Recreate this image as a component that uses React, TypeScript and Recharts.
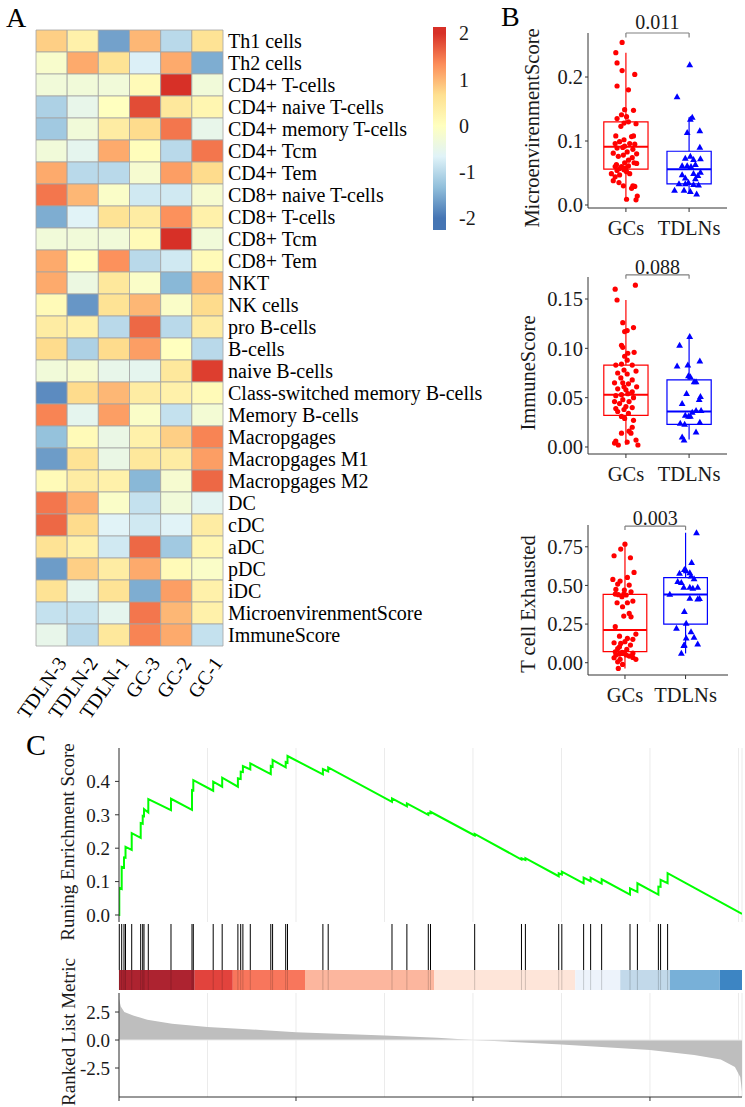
import React from 'react'
import {
  ScatterChart,
  Scatter,
  ComposedChart,
  LineChart,
  Line,
  AreaChart,
  Area,
  XAxis,
  YAxis,
  CartesianGrid,
  ReferenceArea,
  ReferenceLine,
  ReferenceDot,
} from 'recharts'

const FONT = 'Liberation Serif'
const INK = '#1a1a1a'
const RED = '#FF0000'
const BLUE = '#0000FF'

// ---------- panel A: heatmap ----------
const rowLabels = [
  'Th1 cells', 'Th2 cells', 'CD4+ T-cells', 'CD4+ naive T-cells', 'CD4+ memory T-cells',
  'CD4+ Tcm', 'CD4+ Tem', 'CD8+ naive T-cells', 'CD8+ T-cells', 'CD8+ Tcm', 'CD8+ Tem',
  'NKT', 'NK cells', 'pro B-cells', 'B-cells', 'naive B-cells', 'Class-switched memory B-cells',
  'Memory B-cells', 'Macropgages', 'Macropgages M1', 'Macropgages M2', 'DC', 'cDC', 'aDC',
  'pDC', 'iDC', 'MicroenvirenmentScore', 'ImmuneScore',
]
const sampleLabels = ['TDLN-3', 'TDLN-2', 'TDLN-1', 'GC-3', 'GC-2', 'GC-1']
const heatValues = [
  [0.8, 0.3, -1.6, 1.0, -1.0, 0.6],
  [-0.15, 1.1, 0.6, -0.7, 1.1, -1.5],
  [-0.3, -0.3, -0.3, 0.1, 2.0, -0.3],
  [-1.1, -0.5, 0.0, 1.8, 0.5, 0.2],
  [-1.2, -0.3, 0.4, 0.7, 1.5, -0.5],
  [-0.3, -0.55, 1.1, 0.05, -1.0, 1.5],
  [1.1, -1.0, -1.0, -0.2, 1.2, 0.7],
  [1.5, 1.0, -0.1, -0.8, -0.8, -0.2],
  [-1.5, -0.65, 0.6, 0.4, 1.3, 0.3],
  [-0.3, -0.3, -0.3, 0.1, 2.0, -0.3],
  [1.1, 0.0, 1.3, -1.0, -0.8, 0.1],
  [1.1, -0.4, 0.5, -0.1, -1.4, 1.0],
  [0.1, -1.7, 0.6, 1.0, -0.1, 0.7],
  [0.4, 0.3, -1.0, 1.6, -1.0, 0.4],
  [0.7, -1.1, 0.7, 1.2, 0.0, -1.0],
  [-0.3, -0.2, -0.5, -0.55, 0.5, 1.9],
  [-1.8, 0.7, 1.0, 0.4, 0.3, 0.1],
  [1.4, -0.55, 1.2, -0.1, -0.9, -0.25],
  [-1.3, 0.1, -0.45, 0.3, 0.8, 1.4],
  [-1.65, 0.6, -0.45, 0.5, 0.4, 1.2],
  [0.1, 0.4, 0.3, -1.4, -0.2, 1.6],
  [1.5, 1.05, -0.1, -0.9, -0.3, -0.6],
  [1.6, 0.7, -0.65, -0.8, -0.65, 0.4],
  [0.6, 0.3, -0.8, 1.6, -1.2, 0.2],
  [-1.65, 0.8, 0.4, 1.1, 0.1, -0.1],
  [0.6, -0.55, 0.6, -1.5, 1.2, 0.3],
  [-0.9, -0.9, -0.55, 1.5, 1.0, 0.3],
  [-0.5, -1.0, 0.5, 1.4, 1.1, -0.9],
]
const legendTicks = [2, 1, 0, -1, -2]
const palette = ['#4575B4', '#91BFDB', '#E0F3F8', '#FFFFBF', '#FEE090', '#FC8D59', '#D73027']

function hexRgb(h: string) {
  return [1, 3, 5].map(i => parseInt(h.slice(i, i + 2), 16))
}

function heatColor(v: number) {
  const t = Math.max(0, Math.min(1, (v + 2) / 4)) * 6
  const i = Math.min(5, Math.floor(t))
  const f = t - i
  const a = hexRgb(palette[i])
  const b = hexRgb(palette[i + 1])
  const c = a.map((x, k) => Math.round(x + (b[k] - x) * f))
  return `rgb(${c[0]},${c[1]},${c[2]})`
}

// ---------- panel B: box plots ([jitter, value]) ----------
const groups = ['GCs', 'TDLNs']

const microGC: [number, number][] = [
  [-0.06, 0.254], [-0.16, 0.238], [-0.14, 0.222], [-0.06, 0.21], [0.14, 0.204], [-0.14, 0.186],
  [0.04, 0.18], [0.12, 0.148], [-0.02, 0.149], [-0.07, 0.141], [0.01, 0.138], [-0.14, 0.135],
  [0.04, 0.13], [-0.03, 0.128], [-0.08, 0.123], [0.16, 0.127], [-0.16, 0.108], [0.09, 0.107],
  [0.12, 0.108], [-0.03, 0.102], [-0.1, 0.099], [-0.17, 0.096], [0.06, 0.096], [0.14, 0.095],
  [-0.02, 0.092], [-0.05, 0.09], [-0.14, 0.089], [0.11, 0.087], [0.02, 0.083], [-0.2, 0.081],
  [-0.04, 0.078], [0.17, 0.08], [-0.12, 0.076], [0.1, 0.074], [0.04, 0.07], [-0.02, 0.066],
  [0.17, 0.065], [0.13, 0.066], [-0.15, 0.063], [0.04, 0.061], [-0.07, 0.06], [-0.17, 0.06],
  [0, 0.058], [-0.1, 0.057], [-0.03, 0.055], [-0.14, 0.054], [0.01, 0.052], [-0.23, 0.049],
  [-0.1, 0.047], [-0.17, 0.044], [0.06, 0.049], [-0.2, 0.038], [-0.11, 0.035], [-0.04, 0.03],
  [0.11, 0.03], [0.14, 0.029], [0.09, 0.026], [0.18, 0.014], [0.16, 0.008], [0.01, 0.009],
]
const microTD: [number, number][] = [
  [0.01, 0.219], [-0.19, 0.169], [0.05, 0.137], [0.02, 0.134], [0.17, 0.116], [-0.03, 0.113],
  [0.17, 0.09], [0.02, 0.076], [-0.06, 0.073], [0.18, 0.072], [0.07, 0.071], [0.1, 0.063],
  [-0.11, 0.061], [-0.03, 0.061], [0.03, 0.06], [0.18, 0.051], [0.07, 0.049], [-0.11, 0.047],
  [0.14, 0.046], [-0.06, 0.042], [0.1, 0.041], [-0.16, 0.033], [-0.01, 0.035], [0.07, 0.032],
  [-0.06, 0.033], [0.15, 0.031], [-0.23, 0.023], [-0.08, 0.023], [0.02, 0.021], [0.12, 0.017],
]
const microBoxGC = [0.008, 0.056, 0.091, 0.13, 0.238]
const microBoxTD = [0.017, 0.033, 0.056, 0.084, 0.137]

const immuneGC: [number, number][] = [
  [0.15, 0.164], [-0.17, 0.16], [-0.14, 0.149], [-0.05, 0.126], [0.12, 0.121], [0.02, 0.118],
  [-0.02, 0.117], [-0.07, 0.103], [-0.05, 0.101], [0.13, 0.096], [0.03, 0.095], [-0.02, 0.092],
  [0.02, 0.088], [-0.07, 0.084], [-0.16, 0.083], [0.1, 0.083], [-0.03, 0.078], [0.16, 0.077],
  [-0.13, 0.075], [0.02, 0.074], [-0.08, 0.07], [0.1, 0.068], [-0.18, 0.065], [-0.05, 0.065],
  [0.04, 0.064], [-0.03, 0.061], [0.17, 0.061], [-0.13, 0.059], [0, 0.058], [0.1, 0.056],
  [0.03, 0.054], [-0.07, 0.053], [-0.16, 0.052], [0.12, 0.05], [-0.05, 0.048], [-0.18, 0.046],
  [0.05, 0.046], [-0.1, 0.044], [0, 0.041], [0.1, 0.04], [-0.16, 0.039], [-0.03, 0.038],
  [-0.13, 0.036], [0.04, 0.034], [-0.07, 0.031], [-0.02, 0.029], [0.12, 0.027], [0.1, 0.02],
  [0.05, 0.016], [0.08, 0.014], [-0.07, 0.014], [0.16, 0.007], [-0.16, 0.006], [0.02, 0.005],
  [-0.12, 0.002], [0.19, 0.002], [-0.18, 0.004],
]
const immuneTD: [number, number][] = [
  [0.01, 0.112], [-0.15, 0.103], [-0.19, 0.082], [-0.02, 0.083], [0.17, 0.087], [-0.01, 0.072],
  [0.02, 0.071], [0.08, 0.066], [0.11, 0.066], [-0.04, 0.054], [0.18, 0.051], [0.16, 0.048],
  [-0.11, 0.044], [0.19, 0.037], [0.11, 0.037], [0.05, 0.035], [-0.06, 0.032], [-0.01, 0.031],
  [0.02, 0.031], [-0.14, 0.024], [0.17, 0.025], [-0.07, 0.023], [0.11, 0.015], [-0.11, 0.01],
  [-0.08, 0.007],
]
const immuneBoxGC = [0.002, 0.032, 0.053, 0.083, 0.149]
const immuneBoxTD = [0.0075, 0.023, 0.036, 0.068, 0.112]

const exhaustGC: [number, number][] = [
  [0, 0.767], [-0.07, 0.735], [-0.18, 0.692], [0.09, 0.679], [0.15, 0.584], [0.04, 0.552],
  [-0.2, 0.539], [-0.08, 0.528], [-0.12, 0.509], [0.07, 0.502], [-0.15, 0.474], [-0.01, 0.47],
  [0.1, 0.459], [-0.16, 0.444], [-0.11, 0.44], [-0.02, 0.444], [0.02, 0.438], [-0.05, 0.427],
  [0.13, 0.399], [-0.13, 0.388], [0.04, 0.388], [-0.04, 0.362], [0.07, 0.319], [-0.02, 0.302],
  [0.1, 0.297], [-0.16, 0.233], [0.18, 0.185], [-0.09, 0.172], [0.04, 0.157], [0.13, 0.151],
  [0, 0.136], [-0.18, 0.129], [-0.07, 0.125], [0.09, 0.114], [-0.09, 0.103], [-0.12, 0.091],
  [0.03, 0.086], [-0.16, 0.071], [-0.05, 0.067], [-0.01, 0.065], [0.13, 0.062], [-0.09, 0.056],
  [-0.04, 0.06], [0.02, 0.05], [-0.15, 0.05], [0.07, 0.043], [0.13, 0.034], [-0.18, 0.032],
  [-0.08, 0.022], [0.18, 0.022], [-0.12, 0.006], [-0.04, -0.011], [-0.11, -0.037],
]
const exhaustTD: [number, number][] = [
  [0.18, 0.841], [0.1, 0.647], [-0.02, 0.603], [0.01, 0.595], [0.07, 0.582], [-0.1, 0.578],
  [0.09, 0.56], [0.14, 0.543], [-0.13, 0.524], [-0.07, 0.519], [-0.03, 0.487], [0.07, 0.487],
  [0.12, 0.481], [0.2, 0.487], [-0.26, 0.442], [0.07, 0.416], [0.2, 0.412], [0.23, 0.414],
  [-0.02, 0.33], [0.01, 0.254], [-0.15, 0.222], [0.09, 0.2], [0.14, 0.164], [0.01, 0.159],
  [0.2, 0.121], [-0.02, 0.114], [-0.03, 0.11], [-0.07, 0.06],
]
const exhaustBoxGC = [-0.037, 0.072, 0.211, 0.442, 0.776]
const exhaustBoxTD = [0.06, 0.25, 0.442, 0.55, 0.841]

// ---------- panel C: GSEA ----------
const N_GENES = 17600
const hitRanks = [
  8, 76, 141, 184, 359, 613, 670, 706, 828, 1469, 2062, 2099, 2661, 2915, 3359, 3438, 3500,
  3709, 4288, 4339, 4709, 4760, 5760, 5910, 7712, 8133, 8738, 8800, 10048, 11370, 11481,
  12422, 12510, 13126, 13324, 13635, 14436, 14645, 15238, 15300, 15498,
]
const esBefore = [
  0, 0.078, 0.142, 0.171, 0.195, 0.231, 0.273, 0.296, 0.307, 0.314, 0.315, 0.373, 0.372, 0.384,
  0.384, 0.407, 0.428, 0.436, 0.422, 0.444, 0.442, 0.456, 0.421, 0.43, 0.339, 0.325, 0.3, 0.304,
  0.238, 0.166, 0.165, 0.116, 0.121, 0.095, 0.101, 0.094, 0.061, 0.069, 0.061, 0.084, 0.095,
]
const esAfter = [
  0.081, 0.144, 0.172, 0.204, 0.245, 0.275, 0.297, 0.317, 0.347, 0.348, 0.374, 0.404, 0.399,
  0.411, 0.409, 0.429, 0.446, 0.454, 0.446, 0.464, 0.458, 0.476, 0.437, 0.442, 0.349, 0.334,
  0.305, 0.309, 0.243, 0.17, 0.17, 0.125, 0.13, 0.112, 0.112, 0.107, 0.08, 0.095, 0.085, 0.105,
  0.125,
]
const esEnd = 0.003
const bandEdges = [0, 2139, 3215, 5255, 8899, 12890, 14160, 15560, 16970, 17600]
const bandColors = ['#AD2330', '#E2433D', '#F8765C', '#FCB69E', '#FEE5D9', '#EDF3FB', '#C2D9EA', '#78B0D8', '#3D85C3']
const metricRank = [0, 50, 150, 400, 800, 1500, 2500, 4000, 5000, 7500, 9000, 10000, 12500, 15000, 16250, 17000, 17400, 17550, 17600]
const metricValue = [3.7, 3.0, 2.5, 2.2, 1.8, 1.45, 1.17, 0.9, 0.7, 0.4, 0.2, 0.0, -0.39, -0.9, -1.34, -1.73, -2.4, -3.3, -4.6]
const gridRanks = [2500, 5000, 7500, 10000, 12500, 15000, 17500]

function ColTick(props: any) {
  const { x, y, payload } = props
  const ax = x + 16
  const ay = y + 17
  return (
    <text x={ax} y={ay} transform={`rotate(-55 ${ax} ${ay})`} textAnchor="end" fontSize={20}
      fontFamily={FONT} fill="#000">
      {sampleLabels[payload.value]}
    </text>
  )
}

function Heatmap() {
  const cells = heatValues.flatMap((row, r) => row.map((v, c) => ({ r, c, v })))
  return (
    <div style={{ position: 'absolute', left: 0, top: 0 }}>
      <ScatterChart width={500} height={745} margin={{ top: 30, right: 0, bottom: 0, left: 36 }}
        style={{ fontFamily: FONT }}>
        <XAxis type="number" dataKey="c" domain={[-0.5, 5.5]} ticks={[0, 1, 2, 3, 4, 5]} interval={0}
          axisLine={false} tickLine={false} tickSize={0} tickMargin={0} height={99} tick={ColTick} allowDataOverflow />
        <YAxis type="number" dataKey="r" orientation="right" domain={[-0.5, 27.5]} reversed
          ticks={rowLabels.map((_, i) => i)} interval={0} axisLine={false} tickLine={false}
          tickSize={0} tickMargin={5} width={277} allowDataOverflow
          tick={{ fontSize: 20, fill: '#000', fontFamily: FONT }} tickFormatter={(i: number) => rowLabels[i]} />
        {cells.map(d => (
          <ReferenceArea key={`${d.r}-${d.c}`} x1={d.c - 0.5} x2={d.c + 0.5} y1={d.r - 0.5} y2={d.r + 0.5}
            fill={heatColor(d.v)} fillOpacity={1} stroke="#A3A3A3" strokeWidth={0.8} ifOverflow="visible" />
        ))}
        <Scatter data={cells} shape={() => <g />} isAnimationActive={false} />
      </ScatterChart>
    </div>
  )
}

interface BoxProps {
  top: number
  mTop: number
  plotH: number
  plotW: number
  xDomain: [number, number]
  yDomain: [number, number]
  yTicks: number[]
  digits: number
  gcPts: [number, number][]
  tdPts: [number, number][]
  gcBox: number[]
  tdBox: number[]
  halfW: number
  bracket: number
  bracketTick: number
  pText: string
  pOffset: number
}

function BoxPanel(p: BoxProps) {
  const height = p.mTop + p.plotH + 40
  const gcData = p.gcPts.map(([o, v]) => ({ x: 1 + o, y: v }))
  const tdData = p.tdPts.map(([o, v]) => ({ x: 2 + o, y: v }))
  const boxes = [
    { pos: 1, s: p.gcBox, c: RED },
    { pos: 2, s: p.tdBox, c: BLUE },
  ]
  const tick = { fill: INK, fontSize: 20.5, fontFamily: FONT }
  return (
    <div style={{ position: 'absolute', left: 500, top: p.top }}>
      <ComposedChart width={245} height={height} margin={{ top: p.mTop, right: 245 - 88 - p.plotW, bottom: 0, left: 38 }}
        style={{ fontFamily: FONT }}>
        <XAxis type="number" dataKey="x" domain={p.xDomain} ticks={[1, 2]} interval={0} allowDataOverflow
          tickFormatter={(v: number) => groups[v - 1]} height={40} tickSize={4} tickMargin={8}
          stroke="#333" tick={tick} />
        <YAxis type="number" dataKey="y" domain={p.yDomain} ticks={p.yTicks} interval={0} allowDataOverflow
          tickFormatter={(v: number) => v.toFixed(p.digits)} width={50} tickSize={3} tickMargin={2}
          stroke="#333" tick={tick} />
        {boxes.map(b => (
          <React.Fragment key={b.pos}>
            <ReferenceLine segment={[{ x: b.pos, y: b.s[0] }, { x: b.pos, y: b.s[1] }]} stroke={b.c} strokeWidth={1.2} ifOverflow="visible" />
            <ReferenceLine segment={[{ x: b.pos, y: b.s[3] }, { x: b.pos, y: b.s[4] }]} stroke={b.c} strokeWidth={1.2} ifOverflow="visible" />
            <ReferenceArea x1={b.pos - p.halfW} x2={b.pos + p.halfW} y1={b.s[1]} y2={b.s[3]} fill="none"
              fillOpacity={0} stroke={b.c} strokeWidth={1.2} ifOverflow="visible" />
            <ReferenceLine segment={[{ x: b.pos - p.halfW, y: b.s[2] }, { x: b.pos + p.halfW, y: b.s[2] }]}
              stroke={b.c} strokeWidth={2} ifOverflow="visible" />
          </React.Fragment>
        ))}
        <ReferenceLine segment={[{ x: 1, y: p.bracket }, { x: 2, y: p.bracket }]} stroke="#808080" strokeWidth={1.2} ifOverflow="visible" />
        <ReferenceLine segment={[{ x: 1, y: p.bracket }, { x: 1, y: p.bracket - p.bracketTick }]} stroke="#808080" strokeWidth={1.2} ifOverflow="visible" />
        <ReferenceLine segment={[{ x: 2, y: p.bracket }, { x: 2, y: p.bracket - p.bracketTick }]} stroke="#808080" strokeWidth={1.2} ifOverflow="visible" />
        <ReferenceDot x={1.5} y={p.bracket} r={0} stroke="none" fill="none" ifOverflow="visible"
          label={{ value: p.pText, position: 'top', offset: p.pOffset, fontSize: 20, fill: INK, fontFamily: FONT }} />
        <Scatter data={gcData} isAnimationActive={false}
          shape={(s: any) => <circle cx={s.cx} cy={s.cy} r={2.6} fill={RED} />} />
        <Scatter data={tdData} isAnimationActive={false}
          shape={(s: any) => (
            <polygon points={`${s.cx},${s.cy - 3.6} ${s.cx - 3.4},${s.cy + 2.4} ${s.cx + 3.4},${s.cy + 2.4}`} fill={BLUE} />
          )} />
      </ComposedChart>
    </div>
  )
}

function Gsea() {
  const esData = [{ rank: 0, es: 0 }]
  hitRanks.forEach((r, i) => {
    esData.push({ rank: r, es: esBefore[i] })
    esData.push({ rank: r, es: esAfter[i] })
  })
  esData.push({ rank: N_GENES, es: esEnd })
  const metricData = metricRank.map((r, i) => ({ rank: r, m: metricValue[i] }))
  const bands = bandColors.map((c, i) => ({ x1: bandEdges[i], x2: bandEdges[i + 1], c }))
  const tickAxis = { fill: INK, fontSize: 19, fontFamily: FONT }
  return (
    <>
      <div style={{ position: 'absolute', left: 0, top: 740 }}>
        <LineChart width={745} height={190} data={esData} margin={{ top: 8, right: 3, bottom: 8, left: 69 }}
          style={{ fontFamily: FONT }}>
          <XAxis type="number" dataKey="rank" domain={[0, N_GENES]} ticks={gridRanks} interval={0} hide allowDataOverflow />
          <YAxis type="number" domain={[-0.021, 0.5]} ticks={[0, 0.1, 0.2, 0.3, 0.4]} interval={0} allowDataOverflow
            tickFormatter={(v: number) => v.toFixed(1)} width={50} tickSize={4} tickMargin={5} stroke="#333" tick={tickAxis} />
          <CartesianGrid horizontal={false} stroke="#EBEBEB" strokeWidth={1} />
          <Line type="linear" dataKey="es" stroke="#00FF00" strokeWidth={2} dot={false} isAnimationActive={false} />
        </LineChart>
      </div>
      <div style={{ position: 'absolute', left: 0, top: 924 }}>
        <ComposedChart width={745} height={66} data={hitRanks.map(r => ({ rank: r, y: 0.5 }))}
          margin={{ top: 0, right: 3, bottom: 0, left: 119 }}>
          <XAxis type="number" dataKey="rank" domain={[0, N_GENES]} hide allowDataOverflow />
          <YAxis type="number" domain={[0, 1]} hide allowDataOverflow />
          {bands.map(b => (
            <ReferenceArea key={b.x1} x1={b.x1} x2={b.x2} y1={0} y2={0.303} fill={b.c} fillOpacity={1} stroke="none" />
          ))}
          {hitRanks.map(r => (
            <ReferenceLine key={`h${r}`} segment={[{ x: r, y: 0.303 }, { x: r, y: 1 }]} stroke="#000" strokeWidth={1} />
          ))}
          {hitRanks.map(r => (
            <ReferenceLine key={`b${r}`} segment={[{ x: r, y: 0 }, { x: r, y: 0.303 }]} stroke="#000" strokeOpacity={0.18} strokeWidth={1} />
          ))}
          <Line dataKey="y" stroke="none" dot={false} isAnimationActive={false} />
        </ComposedChart>
      </div>
      <div style={{ position: 'absolute', left: 0, top: 985 }}>
        <AreaChart width={745} height={122} data={metricData} margin={{ top: 8, right: 3, bottom: 0, left: 69 }}
          style={{ fontFamily: FONT }}>
          <XAxis type="number" dataKey="rank" domain={[0, N_GENES]} ticks={[0, 5000, 10000, 15000]} interval={0}
            tickFormatter={() => ''} height={10} tickSize={4} stroke="#333" allowDataOverflow />
          <XAxis xAxisId="grid" type="number" dataKey="rank" domain={[0, N_GENES]} ticks={gridRanks} interval={0} hide allowDataOverflow />
          <YAxis type="number" domain={[-5.09, 4.2]} ticks={[-2.5, 0, 2.5]} interval={0} allowDataOverflow
            tickFormatter={(v: number) => v.toFixed(1)} width={50} tickSize={4} tickMargin={5} stroke="#333" tick={tickAxis} />
          <CartesianGrid xAxisId="grid" horizontal={false} stroke="#EBEBEB" strokeWidth={1} />
          <ReferenceLine y={0} stroke="#EBEBEB" strokeWidth={1} />
          <Area type="linear" dataKey="m" stroke="none" fill="#BEBEBE" fillOpacity={1} isAnimationActive={false} />
        </AreaChart>
      </div>
    </>
  )
}

function Overlay() {
  const barTop = 2.137
  const span = 2.137 + 2.257
  const stops = palette.map((_, i) => {
    const v = 2 - (i * 4) / 6
    return { off: (barTop - v) / span, c: palette[6 - i] }
  })
  return (
    <svg width={745} height={1107} style={{ position: 'absolute', left: 0, top: 0, pointerEvents: 'none', fontFamily: FONT }}>
      <defs>
        <linearGradient id="cbar" x1="0" y1="0" x2="0" y2="1">
          {stops.map(s => <stop key={s.c} offset={s.off} stopColor={s.c} />)}
        </linearGradient>
      </defs>
      <rect x={433} y={27} width={13} height={203} fill="url(#cbar)" />
      {legendTicks.map(v => (
        <text key={v} x={459} y={125.7 - v * 46.2} dominantBaseline="central" fontSize={20} fill={INK} fontFamily={FONT}>{v}</text>
      ))}
      <text x={6} y={27} fontSize={28} fill="#000" fontFamily={FONT}>A</text>
      <text x={501} y={26} fontSize={28} fill="#000" fontFamily={FONT}>B</text>
      <text x={26} y={755} fontSize={30} fill="#000" fontFamily={FONT}>C</text>
      <text transform="translate(539,128) rotate(-90)" textAnchor="middle" fontSize={20.5} fill={INK} fontFamily={FONT}>MicroenvirenmentScore</text>
      <text transform="translate(535,373) rotate(-90)" textAnchor="middle" fontSize={20.5} fill={INK} fontFamily={FONT}>ImmuneScore</text>
      <text transform="translate(535,604) rotate(-90)" textAnchor="middle" fontSize={20.5} fill={INK} fontFamily={FONT}>T cell Exhausted</text>
      <text transform="translate(74,842) rotate(-90)" textAnchor="middle" fontSize={19} fill={INK} fontFamily={FONT}>Runing Enrichment Score</text>
      <text transform="translate(75,1032) rotate(-90)" textAnchor="middle" fontSize={19} fill={INK} fontFamily={FONT}>Ranked List Metric</text>
    </svg>
  )
}

export default function App() {
  return (
    <div style={{ position: 'absolute', left: 0, top: 0, width: 745, height: 1107, background: '#fff', fontFamily: FONT, overflow: 'hidden' }}>
      <Heatmap />
      <BoxPanel top={0} mTop={33} plotH={175} plotW={139} xDomain={[0.4, 2.6]} yDomain={[-0.0047, 0.2688]}
        yTicks={[0, 0.1, 0.2]} digits={1} gcPts={microGC} tdPts={microTD} gcBox={microBoxGC} tdBox={microBoxTD}
        halfW={0.35} bracket={0.2688} bracketTick={0.007} pText="0.011" pOffset={4} />
      <BoxPanel top={240} mTop={37} plotH={177} plotW={139} xDomain={[0.4, 2.6]} yDomain={[-0.0071, 0.1723]}
        yTicks={[0, 0.05, 0.1, 0.15]} digits={2} gcPts={immuneGC} tdPts={immuneTD} gcBox={immuneBoxGC} tdBox={immuneBoxTD}
        halfW={0.35} bracket={0.1745} bracketTick={0.004} pText="0.088" pOffset={1} />
      <BoxPanel top={500} mTop={25} plotH={150} plotW={140} xDomain={[0.39, 2.7]} yDomain={[-0.0795, 0.891]}
        yTicks={[0, 0.25, 0.5, 0.75]} digits={2} gcPts={exhaustGC} tdPts={exhaustTD} gcBox={exhaustBoxGC} tdBox={exhaustBoxTD}
        halfW={0.36} bracket={0.884} bracketTick={0.026} pText="0.003" pOffset={1} />
      <Gsea />
      <Overlay />
    </div>
  )
}
